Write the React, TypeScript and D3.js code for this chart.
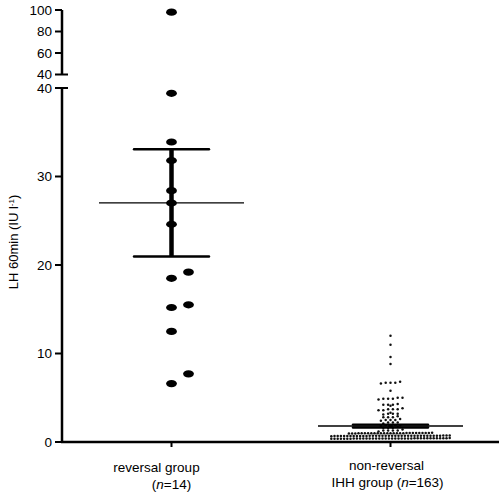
import React from 'react';
import * as d3 from 'd3';

const groups = ['reversal', 'nonReversal'];
const lowerTicks = [0, 10, 20, 30, 40];
const upperTicks = [40, 60, 80, 100];

const reversalValues = [98, 39.4, 33.9, 31.8, 28.4, 27.0, 24.6, 19.2, 18.5, 15.2, 15.5, 12.5, 7.7, 6.6];

const nonReversalUpper = [
  12.0, 11.0, 9.6, 8.8,
  6.7, 6.7, 6.8, 6.6, 6.7,
  5.8,
  4.9, 5.0, 4.8, 4.9, 5.0, 4.9,
  4.2, 4.1, 4.2, 4.3, 4.2,
  3.7, 3.6, 3.7, 3.8, 3.7, 3.6,
  3.2, 3.2, 3.1, 3.3, 3.2,
  2.8, 2.9, 2.8, 2.8,
  2.5, 2.5, 2.4, 2.5, 2.6,
];
const nonReversalMiddle = [2.2, 2.2, 2.1, 1.9, 1.9, 1.9, 1.8, 1.9, 1.6, 1.6, 1.7, 1.6, 2.2, 1.3, 1.3, 1.3, 1.4, 1.3, 1.2];
const nonReversalRow10 = [1.0, 0.98, 1.02, 1.0, 1.03, 0.97, 1.0, 1.01, 0.99, 1.0, 1.04, 0.96, 1.0, 1.02, 0.98, 1.0, 1.01, 0.99, 1.0, 1.03, 0.97, 1.0, 1.02, 0.98, 1.0, 1.01, 0.99];
const nonReversalRow07 = [0.70, 0.68, 0.72, 0.70, 0.71, 0.69, 0.70, 0.73, 0.67, 0.70, 0.71, 0.69, 0.70, 0.72, 0.68, 0.70, 0.74, 0.66, 0.70, 0.71, 0.69, 0.70, 0.72, 0.68, 0.70, 0.71, 0.69, 0.70, 0.73, 0.67, 0.70, 0.71, 0.69, 0.70, 0.72, 0.68, 0.70, 0.71];
const nonReversalRow04 = [0.40, 0.38, 0.42, 0.40, 0.41, 0.39, 0.40, 0.43, 0.37, 0.40, 0.41, 0.39, 0.40, 0.42, 0.38, 0.40, 0.44, 0.36, 0.40, 0.41, 0.39, 0.40, 0.42, 0.38, 0.40, 0.41, 0.39, 0.40, 0.43, 0.37, 0.40, 0.41, 0.39, 0.40, 0.42, 0.38, 0.40, 0.39];
const nonReversalValues = [...nonReversalUpper, ...nonReversalMiddle, ...nonReversalRow10, ...nonReversalRow07, ...nonReversalRow04];

const W = 504, H = 496;
const axisX = 62;
const baseY = 442;

const yLower = d3.scaleLinear().domain([0, 40]).range([baseY, 88]);
const yUpper = d3.scaleLinear().domain([40, 100]).range([74.5, 10]);
const yPix = (v: number) => (v > 40 ? yUpper(v) : yLower(v));
const xScale = d3.scalePoint<string>().domain(groups).range([axisX, 500]).padding(0.5);

const FONT = 'Arial, "Liberation Sans", sans-serif';

function dodgeReversal(values: number[], cx: number) {
  const sorted = [...values].sort((a, b) => a - b);
  const placed: { k: number; y: number; v: number }[] = [];
  const cands = [0, 1, -1, 2, -2];
  for (const v of sorted) {
    const y = yPix(v);
    for (const k of cands) {
      if (!placed.some((p) => p.k === k && Math.abs(p.y - y) < 10.5)) {
        placed.push({ k, y, v });
        break;
      }
    }
  }
  return placed.map((p) => ({ x: cx + p.k * 17, y: p.y, v: p.v }));
}

function rowLayout(values: number[], cx: number) {
  const rows = d3.group(values, (v) => Math.round((v - 0.4) / 0.3));
  const out: { x: number; y: number }[] = [];
  for (const [, vals] of rows) {
    const s = [...vals].sort((a, b) => a - b);
    const n = s.length;
    const sp = n > 12 ? 3.2 : 4.8;
    s.forEach((v, i) => out.push({ x: cx + (i - (n - 1) / 2) * sp, y: yPix(v) }));
  }
  return out;
}

function stats(vals: number[]) {
  const m = d3.mean(vals) as number;
  const sem = (d3.deviation(vals) as number) / Math.sqrt(vals.length);
  return { m, sem };
}

export default function App() {
  const cx0 = xScale('reversal') as number;
  const cx1 = xScale('nonReversal') as number;
  const revPts = dodgeReversal(reversalValues, cx0);
  const nonPts = rowLayout(nonReversalValues, cx1);
  const s0 = stats(reversalValues);
  const s1 = stats(nonReversalValues);

  const errBar = (cx: number, s: { m: number; sem: number }, key: string) => (
    <g key={key} stroke="#000">
      <line x1={cx - 72.5} x2={cx + 72.5} y1={yPix(s.m)} y2={yPix(s.m)} strokeWidth={1.4} />
      <line x1={cx} x2={cx} y1={yPix(s.m + s.sem)} y2={yPix(s.m - s.sem)} strokeWidth={4.5} />
      <line x1={cx - 37.5} x2={cx + 37.5} y1={yPix(s.m + s.sem)} y2={yPix(s.m + s.sem)} strokeWidth={2.4} strokeLinecap="round" />
      <line x1={cx - 37.5} x2={cx + 37.5} y1={yPix(s.m - s.sem)} y2={yPix(s.m - s.sem)} strokeWidth={2.4} strokeLinecap="round" />
    </g>
  );

  return (
    <svg width={W} height={H} style={{ position: 'absolute', left: 0, top: 0, background: '#fff' }} fontFamily={FONT}>
      <rect width={W} height={H} fill="#fff" />
      {/* y axis: upper segment */}
      <line x1={axisX} x2={axisX} y1={yUpper(100)} y2={yUpper(40)} stroke="#000" strokeWidth={2.5} />
      <line x1={axisX - 7} x2={axisX + 6} y1={yUpper(40)} y2={yUpper(40)} stroke="#000" strokeWidth={2} />
      {upperTicks.map((t) => (
        <g key={'u' + t}>
          {t !== 40 && <line x1={axisX - 7} x2={axisX} y1={yUpper(t)} y2={yUpper(t)} stroke="#000" strokeWidth={2} />}
          <text x={axisX - 10} y={yUpper(t)} dy="0.35em" textAnchor="end" fontSize={13.5}>{t}</text>
        </g>
      ))}
      {/* y axis: lower segment */}
      <line x1={axisX} x2={axisX} y1={yLower(40)} y2={baseY} stroke="#000" strokeWidth={2.5} />
      <line x1={axisX - 7} x2={axisX + 6} y1={yLower(40)} y2={yLower(40)} stroke="#000" strokeWidth={2} />
      {lowerTicks.map((t) => (
        <g key={'l' + t}>
          {t !== 40 && <line x1={axisX - 7} x2={axisX} y1={yLower(t)} y2={yLower(t)} stroke="#000" strokeWidth={2} />}
          <text x={axisX - 10} y={yLower(t)} dy="0.35em" textAnchor="end" fontSize={13.5}>{t}</text>
        </g>
      ))}
      {/* x axis */}
      <line x1={axisX - 1} x2={499} y1={baseY} y2={baseY} stroke="#000" strokeWidth={2.5} />
      {groups.map((g) => (
        <line key={g} x1={xScale(g)} x2={xScale(g)} y1={baseY} y2={baseY + 5} stroke="#000" strokeWidth={2} />
      ))}
      {/* y label */}
      <text transform={`translate(18,242) rotate(-90)`} textAnchor="middle" fontSize={13}>
        LH 60min (IU l<tspan dy={-4} fontSize={8}>-1</tspan><tspan dy={4}>)</tspan>
      </text>
      {/* x labels */}
      <text x={cx0 - 15} y={472} textAnchor="middle" fontSize={13.5}>reversal group</text>
      <text x={cx0} y={489} textAnchor="middle" fontSize={13.5}>(<tspan fontStyle="italic">n</tspan>=14)</text>
      <text x={cx1 - 4} y={470} textAnchor="middle" fontSize={13.5}>non-reversal</text>
      <text x={cx1 - 3} y={487} textAnchor="middle" fontSize={13.5}>IHH group (<tspan fontStyle="italic">n</tspan>=163)</text>
      {/* points */}
      {revPts.map((p, i) => (
        <ellipse key={'r' + i} cx={p.x} cy={p.y} rx={5.4} ry={3.6} fill="#000" />
      ))}
      {nonPts.map((p, i) => (
        <circle key={'n' + i} cx={p.x} cy={p.y} r={1.25} fill="#111" />
      ))}
      {errBar(cx0, s0, 'e0')}
      {errBar(cx1, s1, 'e1')}
    </svg>
  );
}
